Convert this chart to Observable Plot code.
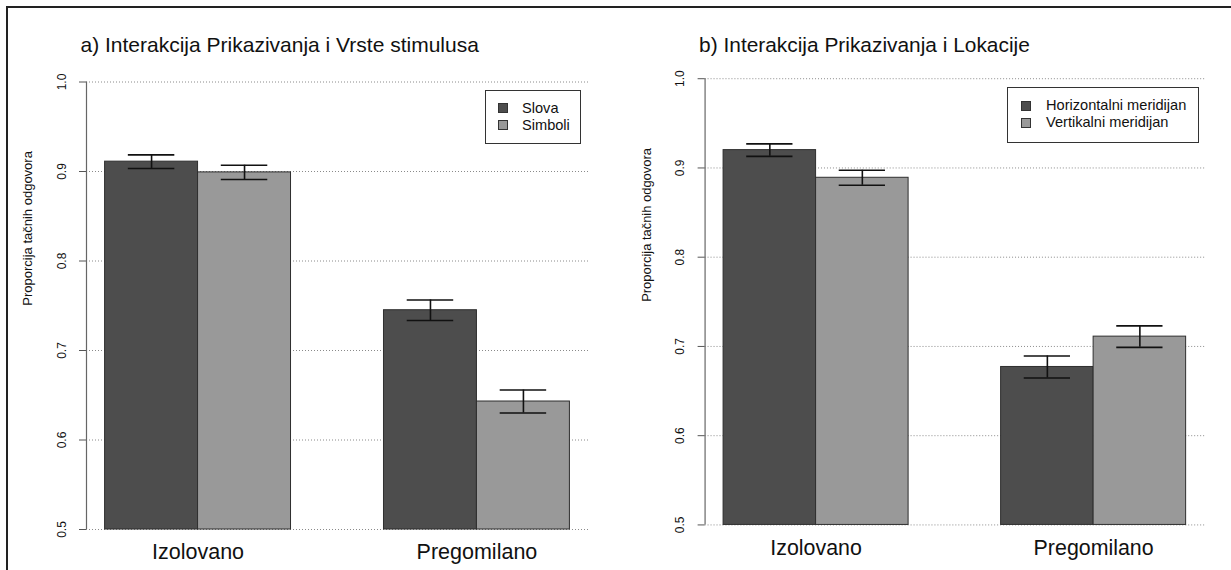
<!DOCTYPE html>
<html>
<head>
<meta charset="utf-8">
<script src="https://cdn.jsdelivr.net/npm/d3@7"></script>
<script src="https://cdn.jsdelivr.net/npm/@observablehq/plot@0.6"></script>
<style>
  html, body { margin: 0; padding: 0; background: #fff; }
  #page { position: relative; width: 1231px; height: 570px; overflow: hidden; font-family: "Liberation Sans", Arial, sans-serif; }
  #frame { position: absolute; left: 6px; top: 6px; width: 1400px; height: 800px; border-left: 2px solid #222; border-top: 2px solid #222; }
  .panel { position: absolute; top: 0; }
  .legend { position: absolute; border: 1px solid #333; background: #fff; font-size: 14.6px; color: #111; padding: 0; }
  .legend .row { position: absolute; left: 0; white-space: nowrap; line-height: 17px; }
  .legend .sw { position: absolute; width: 10px; height: 10px; border: 1px solid #333; box-sizing: border-box; }
</style>
</head>
<body>
<div id="page">
  <div id="frame"></div>
  <div class="panel" id="panelA" style="left:0px"></div>
  <div class="panel" id="panelB" style="left:619px"></div>
</div>
<script>
// Groups and tick values shared by both panels
const groups = ["Izolovano", "Pregomilano"];
const yTicks = [0.5, 0.6, 0.7, 0.8, 0.9, 1.0];
const yLabel = "Proporcija tačnih odgovora";
const barColors = ["#4d4d4d", "#999999"];

// Panel a: display mode × stimulus type
const titleA = "a) Interakcija Prikazivanja i Vrste stimulusa";
const seriesA = ["Slova", "Simboli"];
const slovaMean = [0.911, 0.745];
const simboliMean = [0.899, 0.643];
const slovaSE = [0.0076, 0.0115];
const simboliSE = [0.0080, 0.0128];

// Panel b: display mode × location
const titleB = "b) Interakcija Prikazivanja i Lokacije";
const seriesB = ["Horizontalni meridijan", "Vertikalni meridijan"];
const horizMean = [0.920, 0.677];
const vertMean = [0.889, 0.711];
const horizSE = [0.0070, 0.0123];
const vertSE = [0.0084, 0.0120];

function rows(series, means, ses) {
  const out = [];
  groups.forEach((g, gi) => {
    series.forEach((s, si) => {
      out.push({group: g, series: s, mean: means[si][gi], se: ses[si][gi], pos: 1 + 3 * gi + si});
    });
  });
  return out;
}

function panel(title, series, data, marginTop, marginBottom) {
  const capHalf = 0.25;
  return Plot.plot({
    width: 615,
    height: 570,
    marginLeft: 86,
    marginRight: 27,
    marginTop,
    marginBottom,
    style: {fontFamily: "Liberation Sans, Arial, sans-serif", color: "#111", background: "transparent", overflow: "visible"},
    x: {domain: [0.8, 6.2], axis: null},
    y: {domain: [0.5, 1.0], axis: null},
    color: {domain: series, range: barColors},
    marks: [
      // dotted horizontal grid
      Plot.ruleY(yTicks, {stroke: "#8a8a8a", strokeWidth: 1, strokeDasharray: "1,2"}),
      // bars
      Plot.rectY(data, {x1: "pos", x2: d => d.pos + 1, y1: 0.5, y2: "mean", fill: "series", stroke: "#2e2e2e", strokeWidth: 1}),
      // error bars
      Plot.ruleX(data, {x: d => d.pos + 0.5, y1: d => d.mean - d.se, y2: d => d.mean + d.se, stroke: "#111", strokeWidth: 1.6}),
      Plot.ruleY(data, {y: d => d.mean + d.se, x1: d => d.pos + 0.5 - capHalf, x2: d => d.pos + 0.5 + capHalf, stroke: "#111", strokeWidth: 1.6}),
      Plot.ruleY(data, {y: d => d.mean - d.se, x1: d => d.pos + 0.5 - capHalf, x2: d => d.pos + 0.5 + capHalf, stroke: "#111", strokeWidth: 1.6}),
      // y axis line, ticks and rotated labels
      Plot.ruleX([0.8], {y1: 0.5, y2: 1.0, stroke: "#666", strokeWidth: 1.2}),
      Plot.axisY(yTicks, {ticks: yTicks, tickSize: 7, tickPadding: 14, tickRotate: -90, tickFormat: d3.format(".1f"), fontSize: 12, stroke: "#555", label: null}),
      // y axis title
      Plot.text([yLabel], {frameAnchor: "left", rotate: -90, dx: -59, fontSize: 13, fill: "#111"}),
      // group labels
      Plot.text(groups, {x: (d, i) => 2 + 3 * i, y: 0.5, dy: 23, fontSize: 21.5, fill: "#111"}),
      // panel title
      Plot.text([title], {frameAnchor: "top-left", textAnchor: "start", lineAnchor: "middle", dx: -6, dy: -(marginTop - 45), fontSize: 21, fill: "#111"})
    ]
  });
}

function legend(series, box) {
  const el = document.createElement("div");
  el.className = "legend";
  Object.assign(el.style, {left: box.left + "px", top: box.top + "px", width: box.width + "px", height: box.height + "px"});
  series.forEach((s, i) => {
    const sw = document.createElement("div");
    sw.className = "sw";
    Object.assign(sw.style, {left: box.sw + "px", top: (box.row0 + 17 * i - 5) + "px", background: barColors[i]});
    el.appendChild(sw);
    const t = document.createElement("div");
    t.className = "row";
    t.textContent = s;
    Object.assign(t.style, {left: box.text + "px", top: (box.row0 + 17 * i - 8.5) + "px"});
    el.appendChild(t);
  });
  document.getElementById("page").appendChild(el);
}

document.getElementById("panelA").appendChild(
  panel(titleA, seriesA, rows(seriesA, [slovaMean, simboliMean], [slovaSE, simboliSE]), 81.5, 41)
);
document.getElementById("panelB").appendChild(
  panel(titleB, seriesB, rows(seriesB, [horizMean, vertMean], [horizSE, vertSE]), 78.6, 43)
);

legend(seriesA, {left: 485, top: 90, width: 94, height: 52, sw: 12, text: 36, row0: 17});
legend(seriesB, {left: 1007, top: 87, width: 190, height: 54, sw: 13, text: 38, row0: 17.5});
</script>
</body>
</html>
